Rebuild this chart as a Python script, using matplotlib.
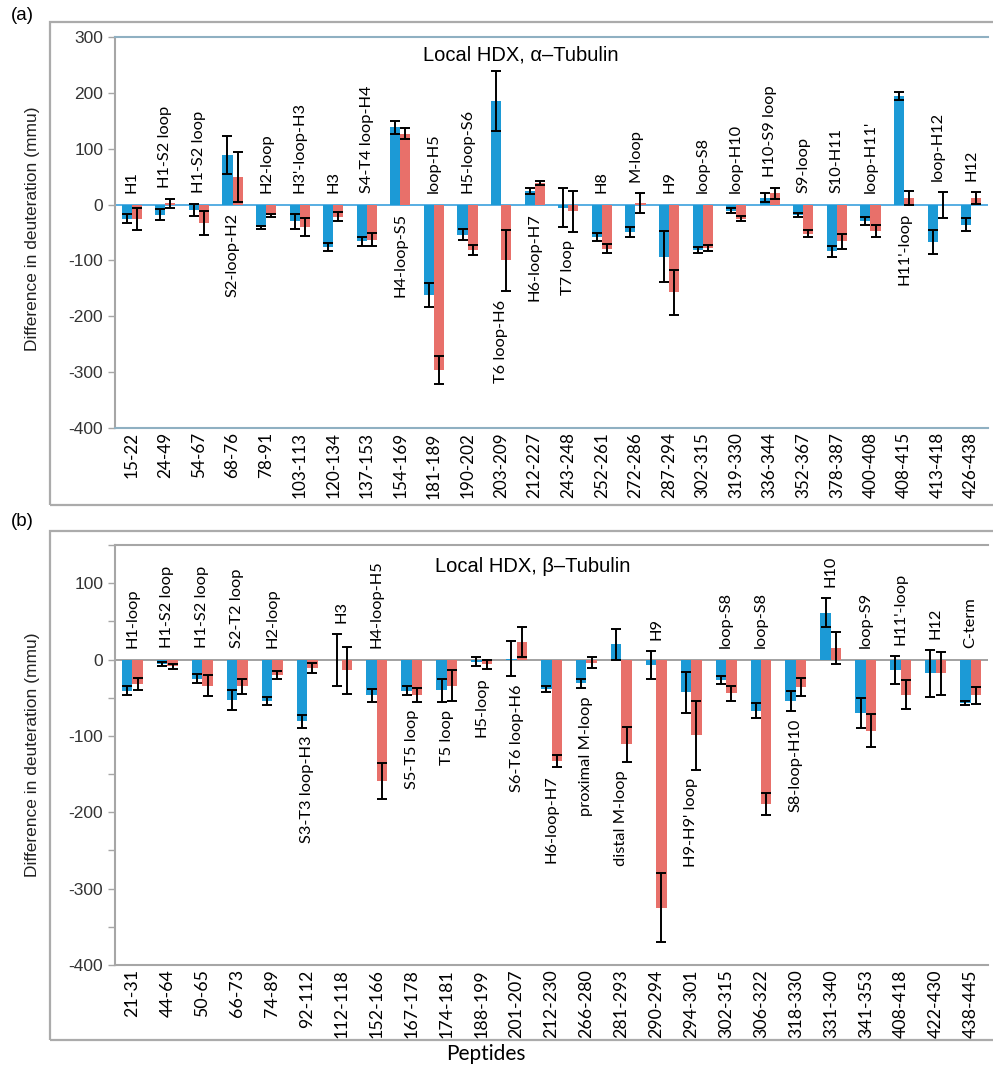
import numpy as np
import matplotlib.pyplot as plt
from matplotlib.patches import Rectangle

# ---- panel (a): alpha-tubulin ----
pep_a = ['15-22', '24-49', '54-67', '68-76', '78-91', '103-113', '120-134', '137-153',
         '154-169', '181-189', '190-202', '203-209', '212-227', '243-248', '252-261',
         '272-286', '287-294', '302-315', '319-330', '336-344', '352-367', '378-387',
         '400-408', '408-415', '413-418', '426-438']
struct_a = ['H1', 'H1-S2 loop', 'H1-S2 loop', 'S2-loop-H2', 'H2-loop', "H3'-loop-H3", 'H3',
            'S4-T4 loop-H4', 'H4-loop-S5', 'loop-H5', 'H5-loop-S6', 'T6 loop-H6',
            'H6-loop-H7', 'T7 loop', 'H8', 'M-loop', 'H9', 'loop-S8', 'loop-H10',
            'H10-S9 loop', 'S9-loop', 'S10-H11', "loop-H11'", "H11'-loop", 'loop-H12', 'H12']
below_a = [0, 0, 0, 1, 0, 0, 0, 0, 1, 0, 0, 1, 1, 1, 0, 0, 0, 0, 0, 0, 0, 0, 0, 1, 0, 0]
blue_a = [-25, -18, -10, 89, -41, -30, -76, -66, 138, -162, -54, 185, 24, -6, -58, -49,
          -93, -81, -11, 12, -19, -84, -30, 194, -67, -36]
blue_err_a = [8, 10, 11, 34, 2, 14, 8, 8, 11, 22, 10, 54, 5, 35, 8, 9, 45, 5, 4, 8, 4, 10,
              7, 7, 21, 12]
red_a = [-26, 2, -33, 49, -19, -40, -22, -63, 127, -296, -81, -100, 39, -12, -79, 3, -157,
         -78, -25, 20, -52, -66, -47, 12, -1, 12]
red_err_a = [20, 8, 22, 45, 3, 16, 8, 12, 10, 25, 9, 55, 4, 37, 8, 18, 40, 6, 5, 10, 6, 13,
             11, 12, 23, 11]

# ---- panel (b): beta-tubulin ----
pep_b = ['21-31', '44-64', '50-65', '66-73', '74-89', '92-112', '112-118', '152-166',
         '167-178', '174-181', '188-199', '201-207', '212-230', '266-280', '281-293',
         '290-294', '294-301', '302-315', '306-322', '318-330', '331-340', '341-353',
         '408-418', '422-430', '438-445']
struct_b = ['H1-loop', 'H1-S2 loop', 'H1-S2 loop', 'S2-T2 loop', 'H2-loop', 'S3-T3 loop-H3',
            'H3', 'H4-loop-H5', 'S5-T5 loop', 'T5 loop', 'H5-loop', 'S6-T6 loop-H6',
            'H6-loop-H7', 'proximal M-loop', 'distal M-loop', 'H9', "H9-H9' loop", 'loop-S8',
            'loop-S8', 'S8-loop-H10', 'H10', 'loop-S9', "H11'-loop", 'H12', 'C-term']
below_b = [0, 0, 0, 0, 0, 1, 0, 0, 1, 1, 1, 1, 1, 1, 1, 0, 1, 0, 0, 1, 0, 0, 0, 0, 0]
blue_b = [-41, -6, -25, -53, -54, -81, -1, -47, -41, -40, -3, 1, -38, -31, 20, -7, -43, -27,
          -67, -54, 61, -70, -14, -18, -57]
blue_err_b = [6, 3, 6, 13, 5, 8, 34, 9, 6, 15, 6, 23, 4, 6, 20, 18, 27, 5, 10, 13, 19, 19,
              18, 31, 3]
red_b = [-32, -9, -34, -35, -20, -11, -14, -159, -46, -34, -6, 23, -133, -4, -111, -325, -99,
         -44, -189, -36, 15, -93, -46, -18, -47]
red_err_b = [8, 3, 14, 10, 5, 7, 31, 24, 9, 20, 6, 20, 8, 7, 23, 45, 45, 10, 14, 12, 21, 22,
             19, 28, 11]

BLUE = '#1c9ad6'
RED = '#e8706a'
GRAY = '#a6a6a6'
LABEL_FONT = ['Lato', 'DejaVu Sans']
ARIAL = ['Liberation Sans', 'DejaVu Sans']

W, H = 993, 1067
fig = plt.figure(figsize=(W / 100, H / 100), dpi=100)


def fx(px):
    return px / W


def fy(px):
    return 1 - px / H


def panel(rect, pep, struct, below, blue, berr, red, rerr, ylim, yticks, minor,
          title, spine_col, zero_col, pep_size):
    ax = fig.add_axes(rect)
    x = np.arange(len(pep))
    w = 0.3
    ekw = dict(ecolor='black', elinewidth=1.4, capsize=3.4, capthick=1.4)
    ax.bar(x - w / 2, blue, w, color=BLUE, yerr=berr, error_kw=ekw, zorder=2)
    ax.bar(x + w / 2, red, w, color=RED, yerr=rerr, error_kw=ekw, zorder=2)
    ax.axhline(0, color=zero_col, lw=1.3, zorder=1)

    ax.set_xlim(-0.5, len(pep) - 0.5)
    ax.set_ylim(*ylim)
    ax.set_yticks(yticks)
    ax.set_yticklabels([str(t) for t in yticks], family=ARIAL, fontsize=12.5, color='#333333')
    if minor:
        ax.set_yticks(np.arange(ylim[0], ylim[1] + 1, 50), minor=True)
    ax.tick_params(axis='y', which='both', direction='out', length=5, color=GRAY, width=1)
    ax.set_xticks(x)
    ax.set_xticklabels(pep, rotation=90, family=LABEL_FONT, fontsize=pep_size)
    ax.tick_params(axis='x', length=0, pad=3)

    ax.spines['right'].set_visible(False)
    ax.spines['left'].set_color(GRAY)
    for s in ('top', 'bottom'):
        ax.spines[s].set_color(spine_col)
    for s in ax.spines.values():
        s.set_linewidth(1.5)

    hi = np.maximum(np.array(blue) + berr, np.array(red) + rerr)
    lo = np.minimum(np.array(blue) - berr, np.array(red) - rerr)
    for i, lab in enumerate(struct):
        if below[i]:
            ax.annotate(lab, (i, min(0, lo[i])), xytext=(0, -6), textcoords='offset points',
                        rotation=90, ha='center', va='top', family=LABEL_FONT, fontsize=11.8)
        else:
            ax.annotate(lab, (i, max(0, hi[i])), xytext=(0, 8), textcoords='offset points',
                        rotation=90, ha='center', va='bottom', family=LABEL_FONT, fontsize=11.8)

    ax.text(title[1], title[2], title[0], transform=ax.transAxes, ha='center', va='center',
            family=ARIAL, fontsize=14.5)
    return ax


ax_a = panel([fx(115), fy(428), fx(988 - 115), (428 - 37) / H], pep_a, struct_a, below_a,
             blue_a, blue_err_a, red_a, red_err_a, (-400, 300), list(range(-400, 301, 100)),
             False, ('Local HDX, \u03b1\u2013Tubulin', 0.465, 0.954), '#8fb0c2', '#4aa8e0',
             12.3)
ax_b = panel([fx(115), fy(965), fx(988 - 115), (965 - 545) / H], pep_b, struct_b, below_b,
             blue_b, blue_err_b, red_b, red_err_b, (-400, 150), list(range(-400, 101, 100)),
             True, ('Local HDX, \u03b2\u2013Tubulin', 0.478, 0.950), GRAY, '#9a9a9a',
             12.8)

# outer frames around each panel
for top, bot in ((22, 505), (531, 1040)):
    fig.patches.append(Rectangle((fx(50), fy(bot)), 1.2, (bot - top) / H, fill=False,
                                 edgecolor='#ababab', lw=1.6, transform=fig.transFigure))

ylab = 'Difference in deuteration (mmu)'
fig.text(fx(33), fy(229), ylab, rotation=90, ha='center', va='center', family=ARIAL,
         fontsize=12.5, color='#222222')
fig.text(fx(33), fy(755), ylab, rotation=90, ha='center', va='center', family=ARIAL,
         fontsize=12.5, color='#222222')
fig.text(fx(22), fy(15), '(a)', ha='center', va='center', family=ARIAL, fontsize=13.5)
fig.text(fx(22), fy(522), '(b)', ha='center', va='center', family=ARIAL, fontsize=13.5)
fig.text(fx(486), fy(1054), 'Peptides', ha='center', va='center', family=LABEL_FONT,
         fontsize=15)

fig.savefig('out.png', dpi=100)
